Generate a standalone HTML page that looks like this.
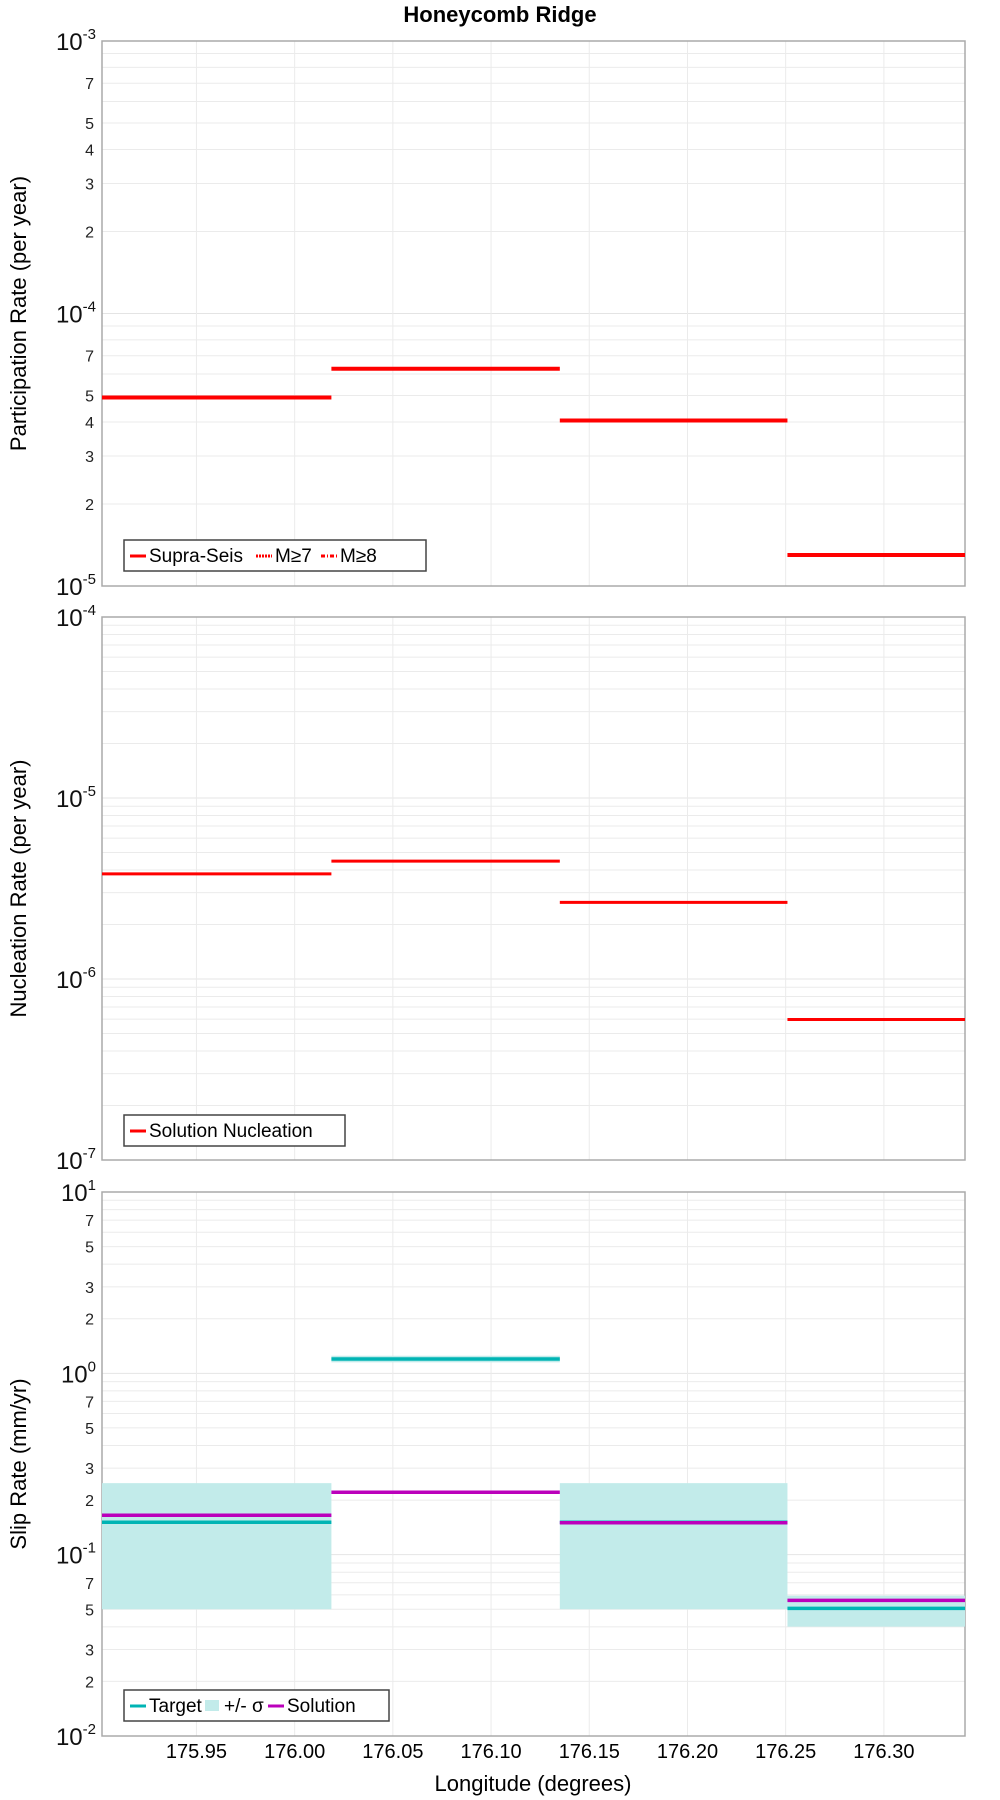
<!DOCTYPE html>
<html><head><meta charset="utf-8"><style>
body{margin:0;background:#fff;}
svg{display:block;font-family:"Liberation Sans","DejaVu Sans",sans-serif;}
</style></head><body>
<svg id="c" width="1000" height="1800" viewBox="0 0 1000 1800">
<text x="500" y="22" text-anchor="middle" font-size="22" font-weight="bold">Honeycomb Ridge</text>
</svg>
<script>
// data
const segEdges = [175.9019, 176.0187, 176.135, 176.2509, 176.3413];
const xTicks = [175.95, 176.00, 176.05, 176.10, 176.15, 176.20, 176.25, 176.30];
const partSupra = [4.92e-5, 6.27e-5, 4.05e-5, 1.3e-5];
const nuclSol = [3.81e-6, 4.48e-6, 2.65e-6, 5.97e-7];
const slipTarget = [0.151, 1.2, 0.151, 0.0506];
const slipSolution = [0.165, 0.221, 0.15, 0.056];
const slipSigmaLo = [0.05, 1.15, 0.05, 0.0401];
const slipSigmaHi = [0.248, 1.25, 0.248, 0.0594];

const svg = document.getElementById('c');
const NS = 'http://www.w3.org/2000/svg';
const L = 102, R = 965;
function el(t, a, p){const e=document.createElementNS(NS,t);for(const k in a)e.setAttribute(k,a[k]);(p||svg).appendChild(e);return e;}
function xs(v){return L+(v-segEdges[0])/(segEdges[4]-segEdges[0])*(R-L);}

function panel(top, bot, lo, hi, minorLabels, title, name){
  const g = el('g',{});  
  const ys = v => bot-(Math.log10(v)-lo)/(hi-lo)*(bot-top);
  for(let d=lo; d<hi; d++){
    for(let m=2;m<=9;m++){const y=ys(m*Math.pow(10,d));
      const ln=el('line',{x1:L,x2:R,y1:y,y2:y,stroke:'#ebebeb','stroke-width':1},g);
      
      
      if(minorLabels.includes(m)){const t=el('text',{x:L-8,y:y+6,'text-anchor':'end','font-size':16,fill:'#222'},g);t.textContent=m;
        
        }
    }
  }
  for(let d=lo; d<=hi; d++){const y=ys(Math.pow(10,d));
    const ln=el('line',{x1:L,x2:R,y1:y,y2:y,stroke:'#e4e4e4','stroke-width':1},g);
    
    
    const t=el('text',{x:L-6,y:y+9,'text-anchor':'end','font-size':24,fill:'#111'},g);
    t.innerHTML='10<tspan dy="-11" font-size="15">'+d+'</tspan>';
    
    
  }
  xTicks.forEach(v=>{const x=xs(v);const ln=el('line',{x1:x,x2:x,y1:top,y2:bot,stroke:'#ebebeb','stroke-width':1},g);
    
    });
  const fr=el('rect',{x:L,y:top,width:R-L,height:bot-top,fill:'none',stroke:'#aaa','stroke-width':1.5},g);
  
  
  const cy=(top+bot)/2;
  const at=el('text',{x:0,y:0,'text-anchor':'middle','font-size':22,transform:`translate(26,${cy}) rotate(-90)`},g);
  at.textContent=title;
  
  
  return {g, ys};
}
function steps(p, vals, color, w, name){
  vals.forEach((v,i)=>{const y=p.ys(v);
    const ln=el('line',{x1:xs(segEdges[i]),x2:xs(segEdges[i+1]),y1:y,y2:y,stroke:color,'stroke-width':w},p.g);
    
    });
}
function legend(p, x, y, w, items){
  const lg=el('g',{},p.g);
  
  
  el('rect',{x:x,y:y,width:w,height:31,fill:'#fff',stroke:'#444','stroke-width':1.5},lg);
  let cx=x+6;
  items.forEach(it=>{
    if(it.band){el('rect',{x:cx,y:y+10,width:14,height:11,fill:'#c2ebea'},lg);}
    else el('line',{x1:cx,x2:cx+16,y1:y+16,y2:y+16,stroke:it.c,'stroke-width':3,'stroke-dasharray':it.d||'none'},lg);
    const t=el('text',{x:cx+19,y:y+22,'font-size':19},lg);t.textContent=it.t;
    
    
    cx+=19+it.w;
  });
}

// panel 1
const p1=panel(41,586,-5,-3,[2,3,4,5,7],'Participation Rate (per year)','participation-panel');
steps(p1,partSupra,'#ff0000',4,'supra-seis');
legend(p1,124,540,302,[{c:'#f00',t:'Supra-Seis',w:107},{c:'#f00',t:'M≥7',d:'2,1',w:46},{c:'#f00',t:'M≥8',d:'4,2,1,2',w:40}]);
// panel 2
const p2=panel(617,1160,-7,-4,[],'Nucleation Rate (per year)','nucleation-panel');
steps(p2,nuclSol,'#ff0000',3,'solution-nucleation');
legend(p2,124,1115,221,[{c:'#f00',t:'Solution Nucleation',w:180}]);
// panel 3
const p3=panel(1192,1736,-2,1,[2,3,5,7],'Slip Rate (mm/yr)','slip-rate-panel');
slipSigmaLo.forEach((lo,i)=>{const y1=p3.ys(slipSigmaHi[i]),y2=p3.ys(lo);
  const r=el('rect',{x:xs(segEdges[i]),y:y1,width:xs(segEdges[i+1])-xs(segEdges[i]),height:y2-y1,fill:'#c2ebea'},p3.g);
  
  });
steps(p3,slipTarget,'#00b4b4',3.5,'target');
steps(p3,slipSolution,'#bb00bb',3.5,'solution');
legend(p3,124,1690,265,[{c:'#00b4b4',t:'Target',w:56},{band:true,t:'+/- σ',w:44},{c:'#bb00bb',t:'Solution',w:80}]);

// x axis
xTicks.forEach(v=>{const t=el('text',{x:xs(v),y:1758,'text-anchor':'middle','font-size':20});t.textContent=v.toFixed(2);
  
  });
const xt=el('text',{x:533,y:1791,'text-anchor':'middle','font-size':22});xt.textContent='Longitude (degrees)';


</script>
</body></html>
